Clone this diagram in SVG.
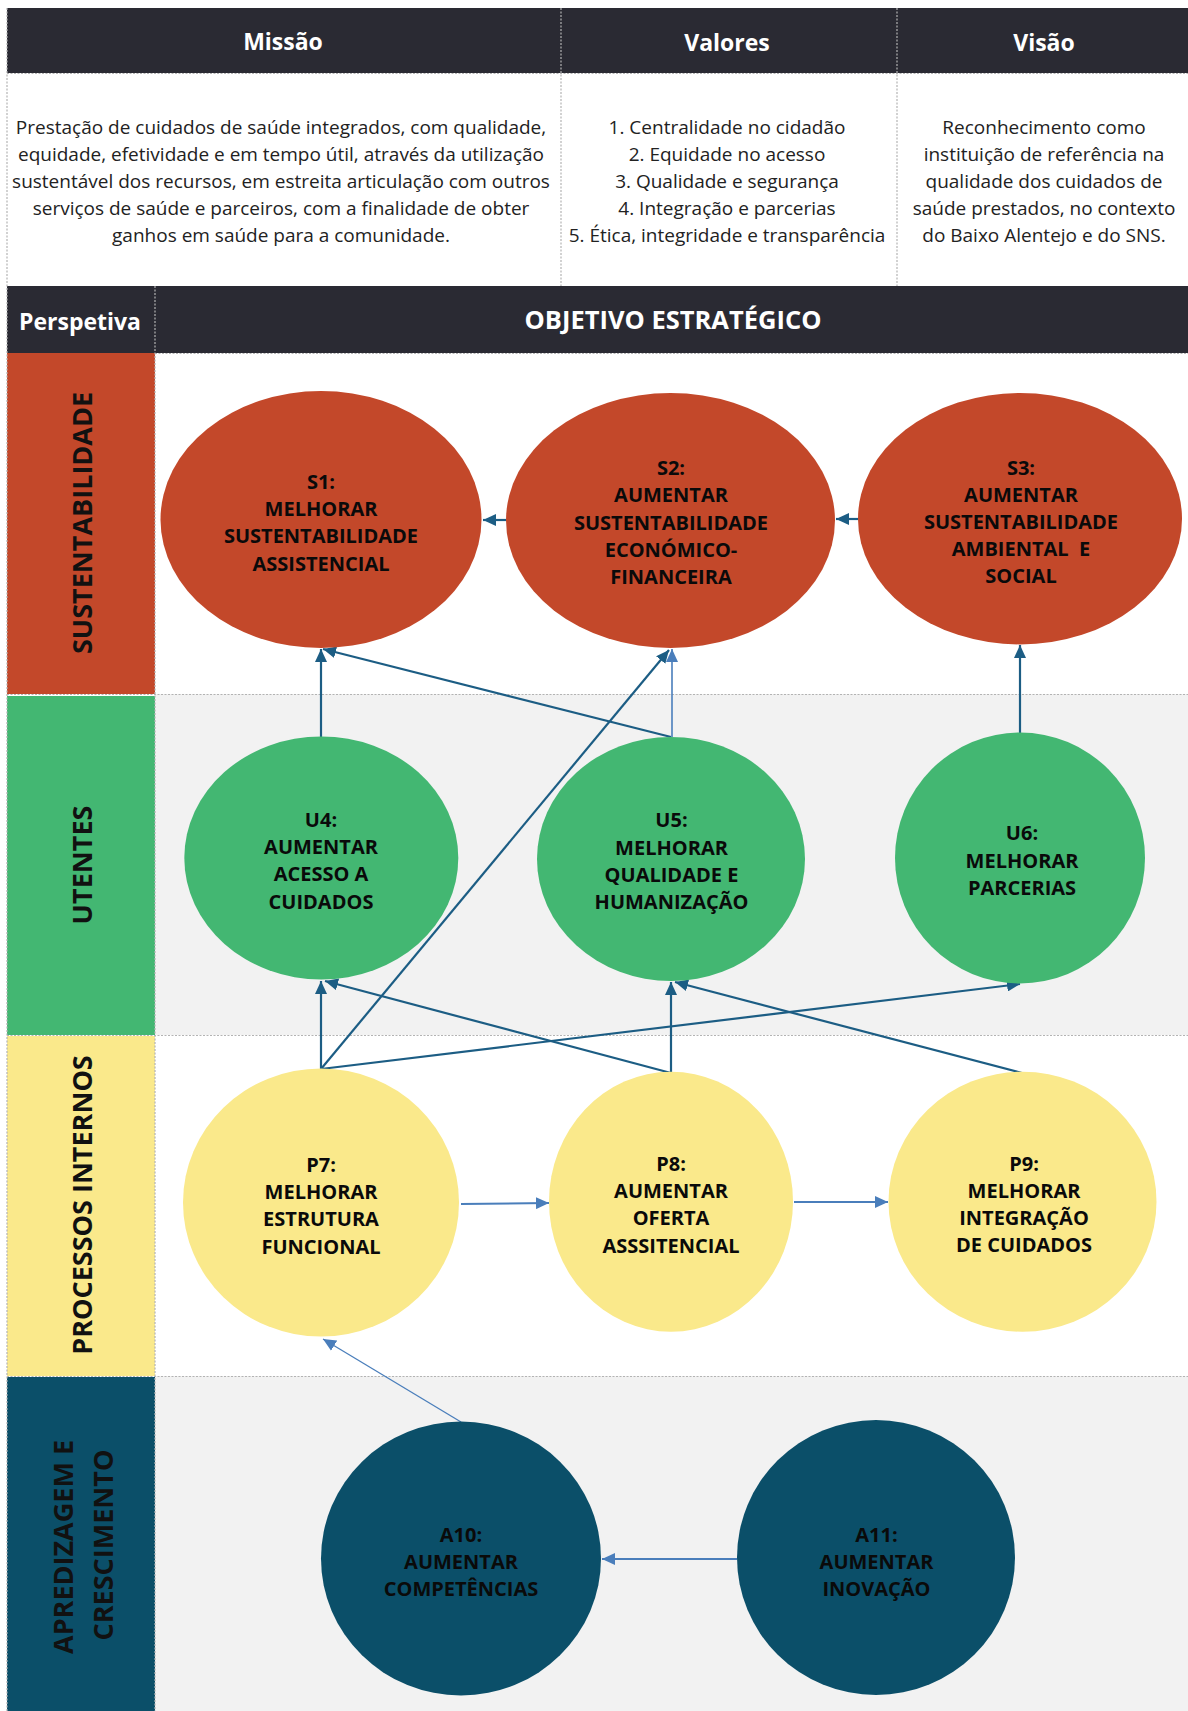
<svg xmlns="http://www.w3.org/2000/svg" width="1188" height="1711" viewBox="0 0 1188 1711">
<style>
.hdr{font-family:"Open Sans","Noto Sans",sans-serif;font-weight:bold;font-size:23px;fill:#fff;text-anchor:middle}
.body{font-family:"Open Sans","Noto Sans",sans-serif;font-size:19px;fill:#222;text-anchor:middle}
.side{font-family:"Open Sans","Noto Sans",sans-serif;font-weight:bold;font-size:27px;fill:#111;text-anchor:middle}
.nt{font-family:"Open Sans","Noto Sans",sans-serif;font-weight:bold;font-size:20px;fill:#0a0a0a;text-anchor:middle}
.grid{stroke:#b3b3b3;stroke-width:1.2;stroke-dasharray:2,1.5;fill:none}
.cd{stroke:#1C5D84;stroke-width:2.2;fill:none}
.cl{stroke:#4A7EBB;stroke-width:1.6;fill:none}
.red{fill:#C3482A}.grn{fill:#43B772}.yel{fill:#FAE98B}.tea{fill:#0B4F69}
</style>
<defs>
<marker id="ad" markerUnits="userSpaceOnUse" markerWidth="14" markerHeight="12" refX="13" refY="6" orient="auto"><path d="M0,0 L13,6 L0,12 z" fill="#1C5D84"/></marker>
<marker id="al" markerUnits="userSpaceOnUse" markerWidth="14" markerHeight="12" refX="13" refY="6" orient="auto"><path d="M0,0 L13,6 L0,12 z" fill="#4A7EBB"/></marker>
</defs>
<rect width="1188" height="1711" fill="#fff"/>

<g id="header">
<rect x="7" y="8" width="1181" height="65" fill="#2A2A33"/>
<text class="hdr" x="283" y="50">Missão</text>
<text class="hdr" x="727" y="51">Valores</text>
<text class="hdr" x="1044" y="51">Visão</text>
<text class="body" x="281"><tspan x="281" y="133.5">Prestação de cuidados de saúde integrados, com qualidade,</tspan><tspan x="281" y="160.7">equidade, efetividade e em tempo útil, através da utilização</tspan><tspan x="281" y="187.9">sustentável dos recursos, em estreita articulação com outros</tspan><tspan x="281" y="215.1">serviços de saúde e parceiros, com a finalidade de obter</tspan><tspan x="281" y="242.3">ganhos em saúde para a comunidade.</tspan></text>
<text class="body" x="727"><tspan x="727" y="133.5">1. Centralidade no cidadão</tspan><tspan x="727" y="160.7">2. Equidade no acesso</tspan><tspan x="727" y="187.9">3. Qualidade e segurança</tspan><tspan x="727" y="215.1">4. Integração e parcerias</tspan><tspan x="727" y="242.3">5. Ética, integridade e transparência</tspan></text>
<text class="body" x="1044"><tspan x="1044" y="133.5">Reconhecimento como</tspan><tspan x="1044" y="160.7">instituição de referência na</tspan><tspan x="1044" y="187.9">qualidade dos cuidados de</tspan><tspan x="1044" y="215.1">saúde prestados, no contexto</tspan><tspan x="1044" y="242.3">do Baixo Alentejo e do SNS.</tspan></text>
</g>

<g id="table">
<rect x="7" y="286" width="1181" height="67" fill="#2A2A33"/>
<text class="hdr" x="80" y="330">Perspetiva</text>
<text class="hdr" style="font-size:25.5px" x="673" y="329">OBJETIVO ESTRATÉGICO</text>
<rect x="155" y="694" width="1033" height="341" fill="#F2F2F2"/>
<rect x="155" y="1376" width="1033" height="335" fill="#F2F2F2"/>
<rect class="red" x="7" y="353" width="148" height="341"/>
<rect class="grn" x="7" y="696" width="148" height="339"/>
<rect class="yel" x="7" y="1036" width="148" height="340"/>
<rect class="tea" x="7" y="1377" width="148" height="334"/>
<text class="side" transform="translate(92,523) rotate(-90)">SUSTENTABILIDADE</text>
<text class="side" transform="translate(92,865) rotate(-90)">UTENTES</text>
<text class="side" transform="translate(92,1205) rotate(-90)">PROCESSOS INTERNOS</text>
<text class="side" transform="translate(73,1547) rotate(-90)">APREDIZAGEM E</text>
<text class="side" transform="translate(113,1545) rotate(-90)">CRESCIMENTO</text>
<path class="grid" d="M7,73.5 H1188 M561,8 V286 M897,8 V286 M155,286 V1711 M155,353.5 H1188 M7,694.5 H1188 M7,1035.5 H1188 M7,1376.5 H1188 M7,8 V1711"/>
</g>

<g id="connectors">
<path class="cd" d="M506,520 L483,520" marker-end="url(#ad)"/>
<path class="cd" d="M858,519 L836,519" marker-end="url(#ad)"/>
<path class="cd" d="M321,737 L321,649" marker-end="url(#ad)"/>
<path class="cd" d="M671,737 L323,649" marker-end="url(#ad)"/>
<path class="cl" d="M672,737 L672,649" marker-end="url(#al)"/>
<path class="cd" d="M1020,733 L1020,645" marker-end="url(#ad)"/>
<path class="cd" d="M321,1069 L321,981" marker-end="url(#ad)"/>
<path class="cd" d="M321,1069 L669,650" marker-end="url(#ad)"/>
<path class="cd" d="M321,1069 L1020,984" marker-end="url(#ad)"/>
<path class="cd" d="M671,1073 L671,982" marker-end="url(#ad)"/>
<path class="cd" d="M671,1073 L325,981" marker-end="url(#ad)"/>
<path class="cd" d="M1022,1073 L675,982" marker-end="url(#ad)"/>
<path class="cl" style="stroke-width:2" d="M461,1204 L549,1203" marker-end="url(#al)"/>
<path class="cl" style="stroke-width:2" d="M794,1202 L888,1202" marker-end="url(#al)"/>
<path class="cl" style="stroke-width:2" d="M737,1559 L602,1559" marker-end="url(#al)"/>
<path class="cl" style="stroke-width:1.3" d="M461,1422 L323,1339" marker-end="url(#al)"/>
</g>

<g id="S1"><ellipse class="red" cx="321" cy="519.5" rx="160.5" ry="128.5"/>
<text class="nt"><tspan x="321" y="488.5">S1:</tspan><tspan x="321" y="515.5">MELHORAR</tspan><tspan x="321" y="543">SUSTENTABILIDADE</tspan><tspan x="321" y="570.5">ASSISTENCIAL</tspan></text></g>
<g id="S2"><ellipse class="red" cx="670.5" cy="520.5" rx="164.5" ry="127.5"/>
<text class="nt"><tspan x="671" y="475">S2:</tspan><tspan x="671" y="502">AUMENTAR</tspan><tspan x="671" y="529.5">SUSTENTABILIDADE</tspan><tspan x="671" y="557">ECONÓMICO-</tspan><tspan x="671" y="584">FINANCEIRA</tspan></text></g>
<g id="S3"><ellipse class="red" cx="1020" cy="518.7" rx="162" ry="125.7"/>
<text class="nt"><tspan x="1021" y="474.5">S3:</tspan><tspan x="1021" y="501.5">AUMENTAR</tspan><tspan x="1021" y="528.5">SUSTENTABILIDADE</tspan><tspan x="1021" y="556">AMBIENTAL&#160; E</tspan><tspan x="1021" y="583">SOCIAL</tspan></text></g>

<g id="U4"><ellipse class="grn" cx="321.3" cy="858" rx="137" ry="121.5"/>
<text class="nt"><tspan x="321" y="827">U4:</tspan><tspan x="321" y="854">AUMENTAR</tspan><tspan x="321" y="881">ACESSO A</tspan><tspan x="321" y="908.5">CUIDADOS</tspan></text></g>
<g id="U5"><ellipse class="grn" cx="671" cy="859" rx="134" ry="122"/>
<text class="nt"><tspan x="671.5" y="827">U5:</tspan><tspan x="671.5" y="855">MELHORAR</tspan><tspan x="671.5" y="882">QUALIDADE E</tspan><tspan x="671.5" y="908.5">HUMANIZAÇÃO</tspan></text></g>
<g id="U6"><ellipse class="grn" cx="1020" cy="858" rx="125" ry="125.5"/>
<text class="nt"><tspan x="1022" y="840">U6:</tspan><tspan x="1022" y="867.5">MELHORAR</tspan><tspan x="1022" y="894.5">PARCERIAS</tspan></text></g>

<g id="P7"><ellipse class="yel" cx="321" cy="1202.5" rx="138" ry="134"/>
<text class="nt"><tspan x="321" y="1172">P7:</tspan><tspan x="321" y="1198.5">MELHORAR</tspan><tspan x="321" y="1226">ESTRUTURA</tspan><tspan x="321" y="1253.5">FUNCIONAL</tspan></text></g>
<g id="P8"><ellipse class="yel" cx="671" cy="1201.7" rx="122" ry="130"/>
<text class="nt"><tspan x="671" y="1171">P8:</tspan><tspan x="671" y="1198">AUMENTAR</tspan><tspan x="671" y="1224.5">OFERTA</tspan><tspan x="671" y="1252.5">ASSSITENCIAL</tspan></text></g>
<g id="P9"><ellipse class="yel" cx="1022.5" cy="1201.7" rx="134" ry="130"/>
<text class="nt"><tspan x="1024" y="1171">P9:</tspan><tspan x="1024" y="1198">MELHORAR</tspan><tspan x="1024" y="1224.5">INTEGRAÇÃO</tspan><tspan x="1024" y="1252">DE CUIDADOS</tspan></text></g>

<g id="A10"><ellipse class="tea" cx="461" cy="1558.5" rx="140" ry="137"/>
<text class="nt"><tspan x="461" y="1542">A10:</tspan><tspan x="461" y="1568.5">AUMENTAR</tspan><tspan x="461" y="1596">COMPETÊNCIAS</tspan></text></g>
<g id="A11"><ellipse class="tea" cx="876" cy="1557.5" rx="139" ry="137.5"/>
<text class="nt"><tspan x="876.5" y="1541.5">A11:</tspan><tspan x="876.5" y="1568.5">AUMENTAR</tspan><tspan x="876.5" y="1595.5">INOVAÇÃO</tspan></text></g>
</svg>
